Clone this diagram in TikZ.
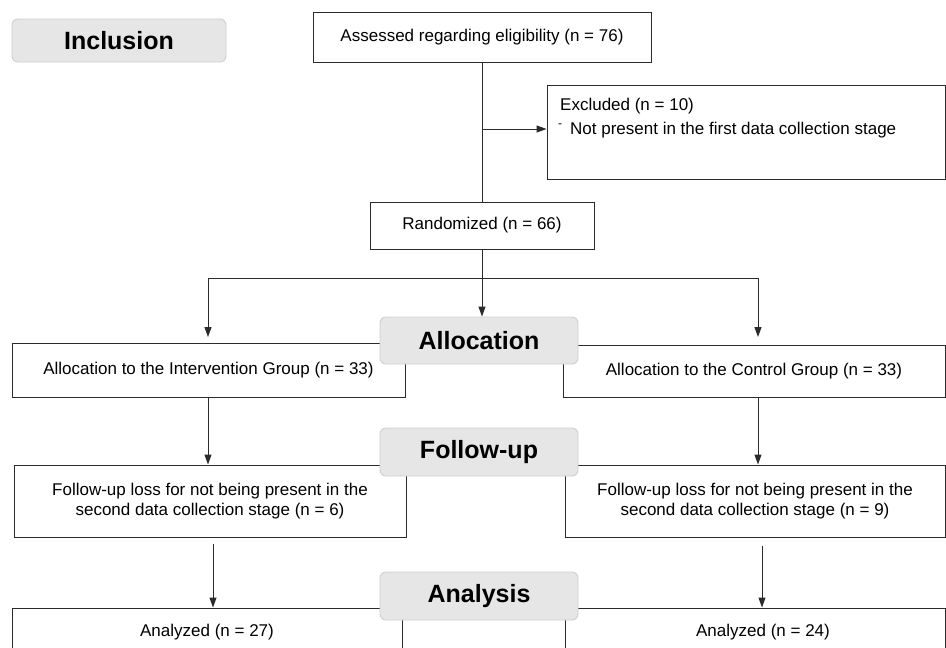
\documentclass[tikz,border=0pt]{standalone}
\usepackage{fontspec}
\setmainfont{Liberation Sans}
\usetikzlibrary{arrows.meta,calc}
\definecolor{lblfill}{HTML}{E6E6E6}
\definecolor{lbldraw}{HTML}{CFCFCF}
\definecolor{edge}{HTML}{2B2B2B}
\begin{document}
\begin{tikzpicture}[x=1pt,y=-1pt,
  box/.style={draw=edge,line width=1pt,fill=white,inner sep=0pt,align=center,font=\fontsize{17}{19.5}\selectfont},
  stage/.style={draw=lbldraw,line width=0.9pt,fill=lblfill,rounded corners=6pt,inner sep=0pt,font=\fontsize{25}{28}\selectfont\bfseries},
  txt/.style={inner sep=0pt,font=\fontsize{17}{19.5}\selectfont},
  conn/.style={draw=edge,line width=1pt},
  arr/.style={conn,-{Triangle[length=10pt,width=7pt]}}]
\clip (0,0) rectangle (946,648);
\fill[white] (0,0) rectangle (946,648);
% boxes
\node[box,minimum width=338pt,minimum height=50pt] (assess) at (482,37) {Assessed regarding eligibility (n = 76)};
\node[box,minimum width=398pt,minimum height=94pt] (excl) at (746,132) {};
\node[txt,anchor=base west] (exclA) at (560,110) {Excluded (n = 10)};
\node[txt,anchor=base west] (exclB) at (570,134) {Not present in the first data collection stage};
\node[inner sep=0pt,anchor=base west,font=\fontsize{12}{12}\selectfont] (exclDash) at (558,127) {-};
\node[box,minimum width=224pt,minimum height=47pt] (rand) at (482,225.5) {Randomized (n = 66)};
\node[box,minimum width=393pt,minimum height=54pt] (allocL) at (208.5,370) {Allocation to the Intervention Group (n = 33)};
\node[box,minimum width=382pt,minimum height=52pt] (allocR) at (754,371) {Allocation to the Control Group (n = 33)};
\node[box,minimum width=392pt,minimum height=72pt] (follL) at (210,501) {Follow-up loss for not being present in the\\second data collection stage (n = 6)};
\node[box,minimum width=380pt,minimum height=72pt] (follR) at (755,501) {Follow-up loss for not being present in the\\second data collection stage (n = 9)};
\node[box,minimum width=390pt,minimum height=52pt] (anL) at (207,634) {};
\node[txt] (anLt) at (207,632) {Analyzed (n = 27)};
\node[box,minimum width=380pt,minimum height=52pt] (anR) at (755,634) {};
\node[txt] (anRt) at (763,632) {Analyzed (n = 24)};
% stage labels
\node[stage,minimum width=214pt,minimum height=43pt] (incl) at (119,40.5) {Inclusion};
\node[stage,minimum width=198pt,minimum height=47pt] (allocS) at (479,340.5) {Allocation};
\node[stage,minimum width=198pt,minimum height=48pt] (follS) at (479,452) {Follow-up};
\node[stage,minimum width=198pt,minimum height=48pt] (anS) at (479,596) {Analysis};
% coordinates
\coordinate (split) at (482,278);
\coordinate (tipL) at (208,337);
\coordinate (tipR) at (758,337);
\coordinate (xL) at (213,0);
\coordinate (xR) at (762,0);
% connectors
\draw[conn] (assess.south) -- (rand.north);
\draw[arr] (assess.south |- {$(excl.west)+(0,-3)$}) -- ($(excl.west)+(0,-3)$);
\draw[conn] (rand.south) -- (split);
\draw[arr] (split) -| (tipL);
\draw[arr] (split) -| (tipR);
\draw[arr] (split) -- (split |- allocS.north);
\draw[arr] (allocL.south -| tipL) -- (follL.north -| tipL);
\draw[arr] (allocR.south -| tipR) -- (follR.north -| tipR);
\draw[arr] ($(follL.south -| xL)+(0,6)$) -- (anL.north -| xL);
\draw[arr] ($(follR.south -| xR)+(0,8)$) -- (anR.north -| xR);
\end{tikzpicture}
\end{document}
